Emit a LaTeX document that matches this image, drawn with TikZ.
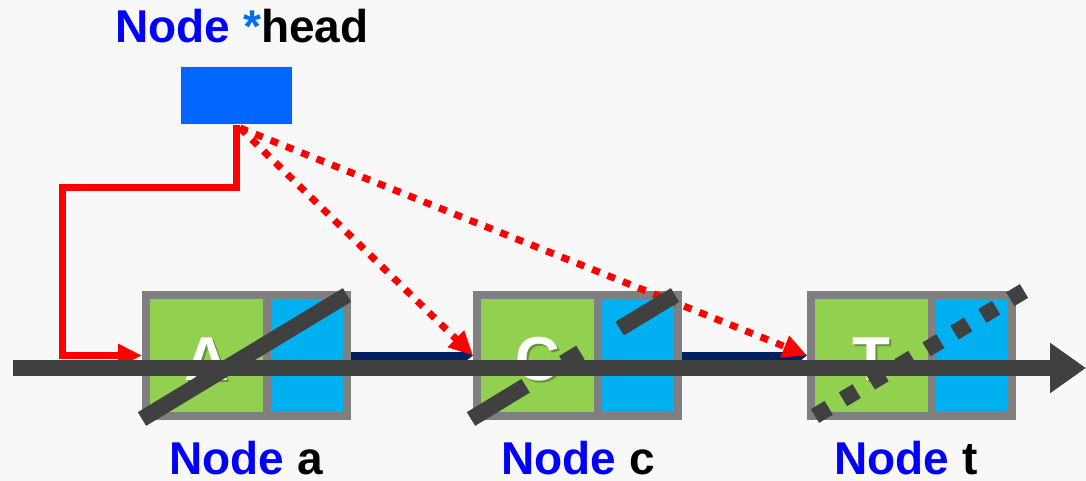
\documentclass[tikz,border=0pt]{standalone}
\usepackage{fontspec}
\setmainfont{Liberation Sans}
\usetikzlibrary{arrows.meta}

\definecolor{bg}{HTML}{F8F8F8}
\definecolor{framegray}{HTML}{7F7F7F}
\definecolor{cellgreen}{HTML}{92D050}
\definecolor{cellblue}{HTML}{00B0F0}
\definecolor{headblue}{HTML}{0066FF}
\definecolor{nodeblue}{HTML}{0000FF}
\definecolor{starblue}{HTML}{0070F0}
\definecolor{linkred}{HTML}{FF0000}
\definecolor{navy}{HTML}{002060}
\definecolor{axisgray}{HTML}{404040}

\begin{document}
\begin{tikzpicture}[x=1pt,y=-1pt,
  cellframe/.style={draw=framegray, line width=8pt, inner sep=0pt, minimum height=121pt},
  datacell/.style={cellframe, fill=cellgreen, minimum width=121pt},
  linkcell/.style={cellframe, fill=cellblue, minimum width=80pt},
  letter/.style={text=white, font=\fontsize{62}{62}\selectfont\bfseries, inner sep=0pt, anchor=base},
  lettershadow/.style={letter, text=black, opacity=0.3},
  caption/.style={font=\fontsize{46}{50}\selectfont\bfseries, inner sep=0pt, anchor=base},
  redlink/.style={draw=linkred, line width=7pt, line join=miter, -{Triangle[length=24pt,width=22pt]}},
  redguess/.style={redlink, dash pattern=on 8pt off 8.5pt},
  nextlink/.style={draw=navy, line width=8pt, -{Triangle[length=12pt,width=18pt]}},
  axisline/.style={draw=axisgray, line width=16pt, -{Triangle[length=36pt,width=48pt]}},
  strike/.style={draw=axisgray, line width=16pt}
]
% canvas
\path[fill=bg] (0,0) rectangle (1086,481);
\useasboundingbox (0,0) rectangle (1086,481);

% head pointer
\node[fill=headblue, draw=black!6, line width=1pt, minimum width=112pt, minimum height=58pt, inner sep=0pt] (head) at (236,96) {};
\node[caption] (headlbl) at (242,43) {\textcolor{nodeblue}{Node} \textcolor{starblue}{*}head};

% list nodes: data cell + link cell
\node[datacell] (gA) at (206.5,355.5) {};
\node[linkcell] (bA) at (307,355.5) {};
\node[datacell] (gC) at (537.5,355.5) {};
\node[linkcell] (bC) at (638,355.5) {};
\node[datacell] (gT) at (871.5,355.5) {};
\node[linkcell] (bT) at (972,355.5) {};

% cell letters with a soft shadow
\node[lettershadow] (sA) at (208.5,382) {A};
\node[letter] (lA) at (206.5,380) {A};
\node[lettershadow] (sC) at (539.5,382) {C};
\node[letter] (lC) at (537.5,380) {C};
\node[lettershadow] (sT) at (873.5,382) {T};
\node[letter] (lT) at (871.5,380) {T};

% captions
\node[caption] (capA) at (246,474) {\textcolor{nodeblue}{Node} a};
\node[caption] (capC) at (578,474) {\textcolor{nodeblue}{Node} c};
\node[caption] (capT) at (906,474) {\textcolor{nodeblue}{Node} t};

% next links
\draw[nextlink] (bA.east) -- (gC.west);
\draw[nextlink] (bC.east) -- (gT.west);

% head links
\coordinate (headtap) at (240,128);
\draw[redguess] (headtap) -- (gC.west);
\draw[redguess] (headtap) -- (gT.west);
\draw[redlink] (head.south) -- ++(0,62) -| ([xshift=-80pt]gA.west) -- (gA.west);

% traversal axis
\coordinate (axisL) at (13,368);
\coordinate (axisR) at (1086,368);
\draw[axisline] (axisL) -- (axisR);

% strike marks
\coordinate (kA1) at (142,419);
\coordinate (kA2) at (347,295);
\draw[strike] (kA1) -- (kA2);
\coordinate (kC1) at (471,419);
\coordinate (kC2) at (675,295);
\draw[strike, dash pattern=on 64pt off 44pt on 20pt off 46pt on 80pt] (kC1) -- (kC2);
\coordinate (kT1) at (815,416);
\coordinate (kT2) at (1024,291);
\draw[strike, dash pattern=on 16pt off 16.5pt] (kT1) -- (kT2);
\end{tikzpicture}
\end{document}
